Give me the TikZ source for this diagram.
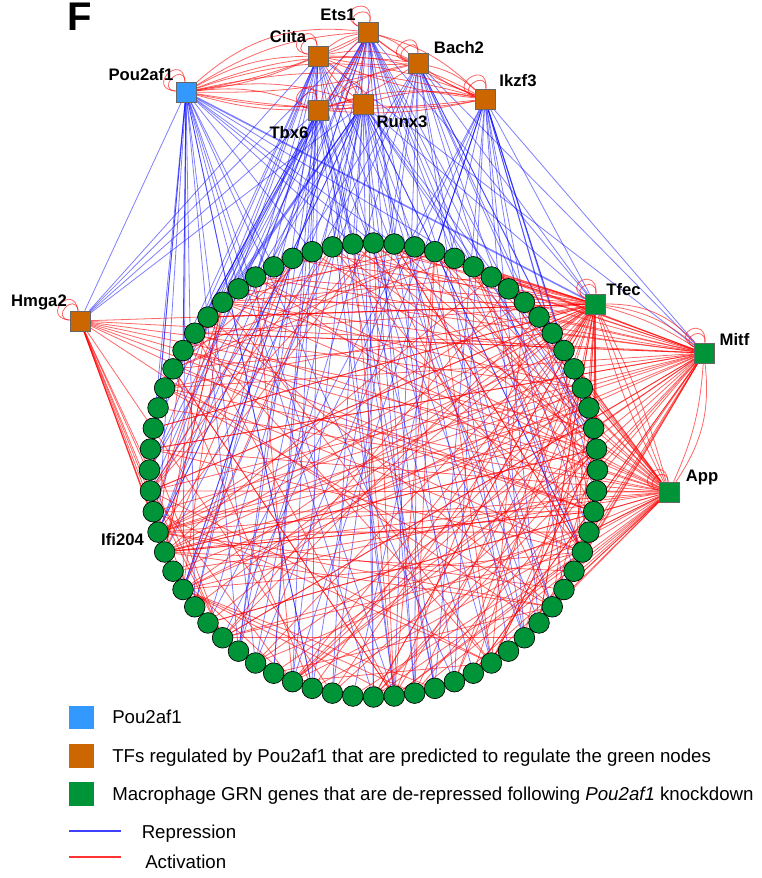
\documentclass[tikz,border=0pt]{standalone}
\usepackage{fontspec}
\setmainfont{Liberation Sans}
\usetikzlibrary{backgrounds}
\definecolor{poublue}{RGB}{51,153,255}
\definecolor{tforange}{RGB}{204,102,0}
\definecolor{grngreen}{RGB}{0,148,57}
\begin{document}
\begin{tikzpicture}[x=0.75pt, y=0.75pt,
    lbl/.style={anchor=base, inner sep=0pt, font=\bfseries\fontsize{12.5}{14}\selectfont},
    legtxt/.style={anchor=base west, inner sep=0pt, font=\fontsize{14}{16}\selectfont},
    tf/.style={rectangle, draw=black!60, fill=tforange, minimum size=15pt, inner sep=0pt, line width=0.4pt},
    gene/.style={circle, draw=black, fill=grngreen, minimum size=15.5pt, inner sep=0pt, line width=0.5pt},
    legsq/.style={rectangle, minimum width=19pt, minimum height=17.5pt, inner sep=0pt},
    rep/.style={draw=blue, draw opacity=0.5, line width=0.6pt},
    act/.style={draw=red, draw opacity=0.6, line width=0.6pt}]
  \useasboundingbox (0,0) rectangle (761,-878);
  \node[anchor=base, inner sep=0pt, font=\bfseries\fontsize{30}{32}\selectfont] (panel) at (79.5,-31) {F};

  % regulators
  \node[tf, fill=poublue] (pou) at (186,-92) {};
  \node[tf] (ets1) at (368,-32) {};
  \node[tf] (ciita) at (318,-56) {};
  \node[tf] (bach2) at (418,-63) {};
  \node[tf] (ikzf3) at (485,-99) {};
  \node[tf] (tbx6) at (318,-110) {};
  \node[tf] (runx3) at (363,-104) {};
  \node[tf] (hmga2) at (80,-321) {};
  \node[tf, fill=grngreen] (tfec) at (595,-304) {};
  \node[tf, fill=grngreen] (mitf) at (704,-353) {};
  \node[tf, fill=grngreen] (app) at (669,-492) {};

  \foreach \i in {0,...,67}
    \node[gene] (g\i) at ({373.5+224*cos(90-5.294118*\i)},{-470+227*sin(90-5.294118*\i)}) {};

  \node[lbl] (pou-l) at (141,-80) {Pou2af1};
  \node[lbl] (ets1-l) at (338,-20) {Ets1};
  \node[lbl] (ciita-l) at (288,-42) {Ciita};
  \node[lbl] (tbx6-l) at (289,-138) {Tbx6};
  \node[lbl] (runx3-l) at (402,-127) {Runx3};
  \node[lbl] (bach2-l) at (459,-53) {Bach2};
  \node[lbl] (ikzf3-l) at (518,-86) {Ikzf3};
  \node[lbl] (hmga2-l) at (39,-306) {Hmga2};
  \node[lbl] (tfec-l) at (623.5,-295) {Tfec};
  \node[lbl] (mitf-l) at (734.5,-345) {Mitf};
  \node[lbl] (app-l) at (702,-481) {App};
  \node[lbl] (ifi-l) at (122.5,-545) {Ifi204};

  \begin{scope}[on background layer]
    \pgfmathsetseed{11}
    % repression
    \foreach \src/\lo/\hi/\cnt in {pou/28/72/22, ciita/22/70/16, ets1/14/74/22, tbx6/24/66/16, runx3/10/70/24, bach2/6/50/16, ikzf3/0/44/18}
      \foreach \k in {1,...,\cnt}{
        \pgfmathtruncatemacro{\tgt}{mod(\lo+(\k-0.5)*(\hi-\lo)/\cnt+3*rnd,68)}
        \draw[rep] (\src) -- (g\tgt);
      }
    \foreach \src/\dst in {pou/hmga2, ets1/hmga2, ciita/hmga2, tbx6/hmga2, runx3/hmga2, runx3/tfec, ets1/tfec, ikzf3/tfec, ikzf3/mitf, bach2/mitf, bach2/tfec, ciita/mitf}
      \draw[rep] (\src) -- (\dst);
    \draw[rep, line width=1.2pt] (pou) -- (tfec);

    % activation
    \foreach \a/\b in {pou/ciita, pou/ets1, pou/bach2, pou/ikzf3, pou/tbx6, pou/runx3, ciita/ets1, ciita/bach2, ciita/ikzf3, ciita/runx3, ets1/bach2, ets1/ikzf3, ets1/runx3, tbx6/runx3, tbx6/ikzf3, tbx6/bach2, runx3/ikzf3, bach2/ikzf3, tbx6/ets1}{
      \draw[act] (\a) to[bend left=14] (\b);
      \draw[act] (\a) to[bend right=8] (\b);
    }
    \draw[act] (pou) to[bend left=24] (ets1);
    \draw[act] (pou) to[bend left=20] (ikzf3);
    \foreach \v/\oa/\ia in {pou/95/175, ets1/80/150, ciita/95/170, bach2/90/170, ikzf3/85/165, tbx6/95/170, runx3/95/170, hmga2/100/175, tfec/85/150, mitf/85/150, app/95/170}{
      \draw[act] (\v) to[out=\oa, in=\ia, looseness=4] (\v);
      \draw[act] (\v) to[out=\oa, in=\ia, looseness=6] (\v);
    }
    \foreach \bb in {8,16,24}
      \draw[act] (tfec) to[bend left=\bb] (mitf);
    \foreach \bb in {-6,0,6}
      \draw[act] (tfec) to[bend left=\bb] (app);
    \foreach \bb in {10,20}
      \draw[act] (mitf) to[bend left=\bb] (app);
    \foreach \src/\cnt in {tfec/45, mitf/38, app/40}
      \foreach \k in {1,...,\cnt}{
        \pgfmathtruncatemacro{\tgt}{mod((\k-0.5)*68/\cnt+2*rnd,68)}
        \draw[act] (\src) -- (g\tgt);
      }
    \foreach \tgt in {42,44,46,47,48,49,50,51,13,15,17,19,21,25,36}
      \draw[act] (hmga2) -- (g\tgt);
    \draw[act] (hmga2) -- (tfec);
    \draw[act] (hmga2) -- (mitf);
    \foreach \h/\cnt in {47/10, 48/8, 45/7, 50/6, 42/6, 38/6, 33/6, 28/6, 24/7, 21/8, 19/8, 16/7, 13/6, 56/6, 60/5, 3/5}
      \foreach \k in {1,...,\cnt}{
        \pgfmathrandominteger{\off}{8}{60}
        \pgfmathtruncatemacro{\tgt}{mod(\h+\off,68)}
        \draw[act] (g\h) -- (g\tgt);
      }
  \end{scope}

  % legend
  \node[legsq, fill=poublue] (leg-pou) at (81.5,-717.5) {};
  \node[legsq, fill=tforange] (leg-tf) at (81.5,-756) {};
  \node[legsq, fill=grngreen] (leg-grn) at (81.5,-794) {};
  \node[legtxt] (leg-pou-t) at (112,-723.5) {Pou2af1};
  \node[legtxt] (leg-tf-t) at (112,-762.5) {TFs regulated by Pou2af1 that are predicted to regulate the green nodes};
  \node[legtxt] (leg-grn-t) at (112,-800.5) {Macrophage GRN genes that are de-repressed following \textit{Pou2af1} knockdown};
  \coordinate (rep-a) at (69,-831);
  \coordinate (rep-b) at (121,-831);
  \coordinate (act-a) at (69,-857);
  \coordinate (act-b) at (121,-857);
  \draw[blue!75, line width=0.8pt] (rep-a) -- (rep-b);
  \draw[red!80, line width=0.8pt] (act-a) -- (act-b);
  \node[legtxt] (rep-t) at (141.5,-838.5) {Repression};
  \node[legtxt] (act-t) at (145,-868.5) {Activation};
\end{tikzpicture}
\end{document}
